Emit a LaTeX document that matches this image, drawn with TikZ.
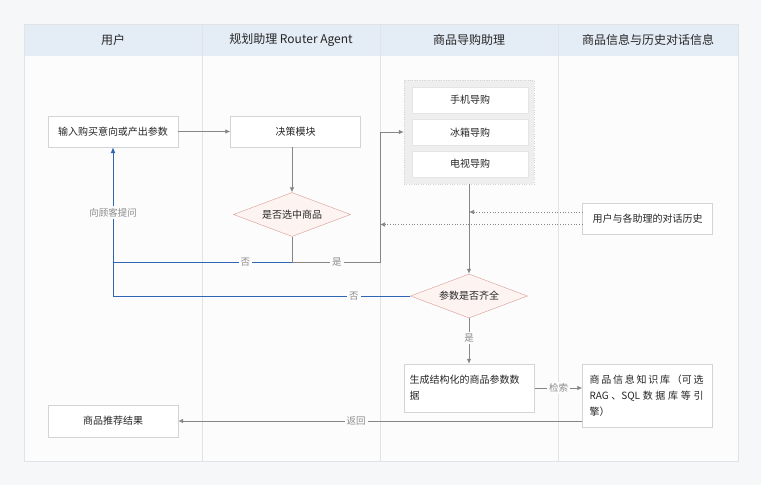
\documentclass[tikz,border=0pt]{standalone}
\usepackage{fontspec}
\setmainfont{Noto Sans CJK SC}
\usetikzlibrary{shapes.geometric,arrows.meta}
\definecolor{pagebg}{HTML}{F6F7F9}
\definecolor{lanebg}{HTML}{FCFCFD}
\definecolor{headbg}{HTML}{E4ECF6}
\definecolor{laneline}{HTML}{E2E3E7}
\definecolor{boxline}{HTML}{D3D4D8}
\definecolor{txt}{HTML}{262626}
\definecolor{lbltxt}{HTML}{8C8C8C}
\definecolor{arr}{HTML}{868686}
\definecolor{bluel}{HTML}{2E66B5}
\definecolor{dfill}{HTML}{FDF4F1}
\definecolor{dline}{HTML}{D79A94}
\definecolor{grpfill}{HTML}{EEEEEF}
\tikzset{
  hdr/.style={font=\fontsize{12}{14}\selectfont, text=txt},
  boxn/.style={draw=boxline, fill=white, minimum width=130pt, minimum height=31pt, inner sep=2pt, font=\fontsize{10}{16}\selectfont, text=txt},
  subbox/.style={draw=boxline!60, fill=white, minimum width=116pt, minimum height=26pt, inner sep=1pt, font=\fontsize{10}{12}\selectfont, text=txt},
  dec/.style={diamond, draw=dline, fill=dfill, minimum width=117pt, minimum height=44pt, inner sep=0pt, aspect=2.66, font=\fontsize{10}{12}\selectfont, text=txt},
  garrow/.style={draw=arr, line width=0.8pt, -{Latex[length=5pt,width=4.5pt]}},
  gline/.style={draw=arr, line width=0.8pt},
  dotarrow/.style={draw=arr, line width=0.7pt, dotted, -{Latex[length=5pt,width=4.5pt]}},
  barrow/.style={draw=bluel, line width=1pt, -{Latex[length=6pt,width=5pt]}},
  bline/.style={draw=bluel, line width=1pt},
  lbl/.style={fill=lanebg, text=lbltxt, inner sep=2pt, font=\fontsize{9.5}{11}\selectfont},
}
\begin{document}
\begin{tikzpicture}[x=1pt,y=-1pt]
\useasboundingbox (0,0) rectangle (761,485);
\fill[pagebg] (0,0) rectangle (761,485);
\fill[lanebg] (24,24) rectangle (738,461);
\fill[headbg] (24,24) rectangle (738,56);
\draw[laneline, line width=0.8pt] (24,24) rectangle (738,461);
\foreach \xx in {202,380,558} \draw[laneline, line width=0.8pt] (\xx,24) -- (\xx,461);
% headers
\node[hdr] (h1) at (113,40) {用户};
\node[hdr] (h2) at (291,40) {规划助理 Router Agent};
\node[hdr] (h3) at (469,40) {商品导购助理};
\node[hdr] (h4) at (648,40) {商品信息与历史对话信息};
% nodes
\node[boxn] (in) at (113,131.5) {输入购买意向或产出参数};
\node[boxn] (dm) at (295.5,131.5) {决策模块};
\node[dec] (d1) at (292,214.5) {是否选中商品};
\node[draw=boxline, dotted, fill=grpfill, minimum width=130pt, minimum height=104pt, inner sep=0pt] (grp) at (469,132) {};
\node[subbox] (s1) at (470,100) {手机导购};
\node[subbox] (s2) at (470,132.5) {冰箱导购};
\node[subbox] (s3) at (470,164) {电视导购};
\node[boxn] (hist) at (647.5,218.5) {用户与各助理的对话历史};
\node[dec] (d2) at (469,296) {参数是否齐全};
\node[boxn, minimum height=48pt, align=left, text width=120pt] (gen) at (469.5,388) {生成结构化的商品参数数\\据};
\node[boxn, minimum height=63pt, align=left, text width=116pt] (kb) at (647.5,395.5) {\leavevmode\hbox to 114pt{商\hfil 品\hfil 信\hfil 息\hfil 知\hfil 识\hfil 库\hfil （可\hfil 选}\\\leavevmode\hbox to 114pt{RAG\hfil 、SQL\hfil 数\hfil 据\hfil 库\hfil 等\hfil 引}\\擎）};
\node[boxn, minimum height=32pt] (res) at (113,421) {商品推荐结果};
% coordinates
\coordinate (j1) at (292,262);
\coordinate (yb) at (380,262);
\coordinate (bl) at (113,262);
% connectors
\draw[garrow] (in.east) -- (dm.west);
\draw[garrow] (dm.south -| d1.north) -- (d1.north);
\draw[gline] (d1.south) -- (j1);
\draw[garrow] (j1) -- node[lbl, pos=0.51]{是} (yb) |- (grp.west);
\draw[bline] (j1) -- node[lbl, pos=0.26]{否} (bl);
\draw[barrow] (d2.west) -- node[lbl, pos=0.19]{否} (d2.west -| in.south) -- node[lbl, pos=0.56]{向顾客提问} (in.south);
\draw[garrow] (grp.south) -- (d2.north);
\draw[dotarrow] ([yshift=6.5pt]hist.west) -- ([yshift=6.5pt]hist.west -| grp.south);
\draw[dotarrow] ([yshift=-6pt]hist.west) -- ([yshift=-6pt]hist.west -| yb);
\draw[garrow] (d2.south) -- node[lbl, pos=0.43]{是} (d2.south |- gen.north);
\draw[garrow] (gen.east) -- node[lbl]{检索} (kb.west |- gen.east);
\draw[garrow] (kb.west |- res.east) -- node[lbl, pos=0.56]{返回} (res.east);
\end{tikzpicture}
\end{document}
